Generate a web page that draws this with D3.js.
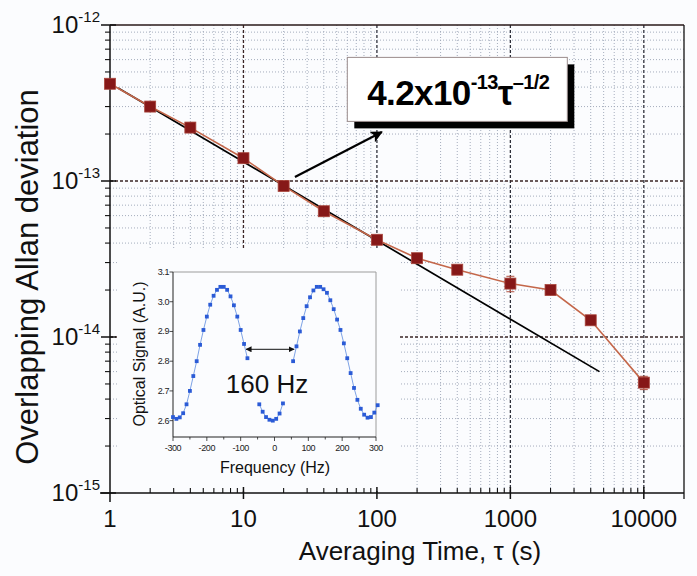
<!DOCTYPE html>
<html>
<head>
<meta charset="utf-8">
<script src="https://cdn.jsdelivr.net/npm/d3@7"></script>
<style>
html, body { margin: 0; padding: 0; background: #fbfcfe; }
svg { display: block; font-family: "Liberation Sans", Arial, sans-serif; }
</style>
</head>
<body>
<svg id="chart" width="697" height="576"></svg>
<script>
// main plot: Allan deviation vs averaging time
const tau = [1, 2, 4, 10, 20, 40, 100, 200, 400, 1000, 2000, 4000, 10000];
const adev = [4.2e-13, 3.0e-13, 2.2e-13, 1.4e-13, 9.3e-14, 6.4e-14, 4.2e-14, 3.2e-14, 2.7e-14, 2.2e-14, 2.0e-14, 1.28e-14, 5.1e-15];
const adevErr = [0, 0, 0, 0, 0, 0, 0, 0, 0, 2.5e-15, 0, 0, 5e-16];

// 4.2e-13 tau^-1/2 guide line, end points
const fitTau = [1.15, 4650];
const fitDev = [3.95e-13, 6.0e-15];

const xTickVals = [1, 10, 100, 1000, 10000];
const xTickLabels = ['1', '10', '100', '1000', '10000'];
const yTickExps = [-12, -13, -14, -15];

// inset: optical signal vs frequency (three recorded segments)
const fLeft = [-300, -290, -280, -270, -260, -250, -240, -230, -220, -210, -200, -190, -180, -170, -160, -150, -140, -130, -120, -110, -100, -90, -80];
const sLeft = [2.612, 2.606, 2.611, 2.625, 2.655, 2.70, 2.75, 2.80, 2.855, 2.905, 2.95, 2.99, 3.02, 3.04, 3.05, 3.05, 3.04, 3.018, 2.988, 2.95, 2.905, 2.858, 2.81];
const fMid = [-45, -35, -25, -15, -5, 5, 15, 25];
const sMid = [2.655, 2.630, 2.612, 2.603, 2.600, 2.606, 2.624, 2.658];
const fRight = [55, 65, 75, 85, 95, 105, 115, 125, 135, 145, 155, 165, 175, 185, 195, 205, 215, 225, 235, 245, 255, 265, 275, 285, 295, 305];
const sRight = [2.80, 2.85, 2.90, 2.945, 2.985, 3.015, 3.038, 3.05, 3.05, 3.042, 3.03, 3.005, 2.975, 2.94, 2.905, 2.86, 2.81, 2.76, 2.71, 2.67, 2.64, 2.62, 2.61, 2.612, 2.627, 2.652];
const insetXTicks = [-300, -200, -100, 0, 100, 200, 300];
const insetYTicks = [2.6, 2.7, 2.8, 2.9, 3.0, 3.1];

const bg = '#fbfcfe';
const svg = d3.select('#chart');

const x = d3.scaleLog().domain([1, 20000]).range([110, 684]);
const y = d3.scaleLog().domain([1e-15, 1e-12]).range([493, 25]);

const isMajor = v => Math.abs(Math.log10(v) - Math.round(Math.log10(v))) < 1e-9;

// grid lines
const grid = svg.append('g');
grid.selectAll('.gx')
    .data(x.ticks().filter(v => v > 1 && v < 20000))
    .join('line')
    .attr('x1', d => x(d)).attr('x2', d => x(d))
    .attr('y1', y(1e-12)).attr('y2', y(1e-15))
    .attr('stroke', d => d === 10 ? '#3a2424' : (isMajor(d) ? '#2e303a' : '#9ba4b5'))
    .attr('stroke-width', d => isMajor(d) ? 1.3 : 0.9)
    .attr('stroke-dasharray', d => isMajor(d) ? '3,2' : '1,2');

grid.selectAll('.gy')
    .data(y.ticks().filter(v => v > 1.01e-15 && v < 0.99e-12))
    .join('line')
    .attr('x1', x(1)).attr('x2', x(20000))
    .attr('y1', d => y(d)).attr('y2', d => y(d))
    .attr('stroke', d => isMajor(d) ? '#3a2424' : '#9ba4b5')
    .attr('stroke-width', d => isMajor(d) ? 1.3 : 0.9)
    .attr('stroke-dasharray', d => isMajor(d) ? '3,2' : '1,2');

// grid is cleared behind the inset
svg.append('rect')
    .attr('x', 117).attr('y', 249)
    .attr('width', 283).attr('height', 242)
    .attr('fill', bg);

// frame and axes
svg.append('line').attr('x1', x(1)).attr('x2', x(20000)).attr('y1', y(1e-12)).attr('y2', y(1e-12))
    .attr('stroke', '#2a1a1a').attr('stroke-width', 1.3);
svg.append('line').attr('x1', x(20000)).attr('x2', x(20000)).attr('y1', y(1e-12)).attr('y2', y(1e-15) + 6)
    .attr('stroke', '#111').attr('stroke-width', 1.3);
svg.append('line').attr('x1', x(1) - 10).attr('x2', x(20000)).attr('y1', y(1e-15)).attr('y2', y(1e-15))
    .attr('stroke', '#111').attr('stroke-width', 1.5);
svg.append('line').attr('x1', x(1)).attr('x2', x(1)).attr('y1', y(1e-12)).attr('y2', y(1e-15) + 9)
    .attr('stroke', '#111').attr('stroke-width', 1.5);

// x ticks
svg.append('g').selectAll('line')
    .data(x.ticks().filter(v => v > 1 && v < 20000))
    .join('line')
    .attr('x1', d => x(d)).attr('x2', d => x(d))
    .attr('y1', d => isMajor(d) ? y(1e-15) - 6 : y(1e-15) - 5)
    .attr('y2', d => isMajor(d) ? y(1e-15) + 6 : y(1e-15))
    .attr('stroke', '#111').attr('stroke-width', d => isMajor(d) ? 1.5 : 1.1);

// y ticks
svg.append('g').selectAll('line')
    .data(y.ticks())
    .join('line')
    .attr('x1', d => isMajor(d) ? x(1) - 9 : x(1) - 5)
    .attr('x2', d => isMajor(d) ? x(1) + 6 : x(1))
    .attr('y1', d => y(d)).attr('y2', d => y(d))
    .attr('stroke', '#111').attr('stroke-width', d => isMajor(d) ? 1.5 : 1.1);

// tick labels
svg.append('g').selectAll('text')
    .data(xTickVals)
    .join('text')
    .attr('x', d => x(d)).attr('y', y(1e-15) + 34)
    .attr('text-anchor', 'middle')
    .attr('font-size', 24).attr('fill', '#111')
    .text((d, i) => xTickLabels[i]);

const yl = svg.append('g').selectAll('text')
    .data(yTickExps)
    .join('text')
    .attr('x', x(1) - 10).attr('y', d => y(Math.pow(10, d)) + 8)
    .attr('text-anchor', 'end')
    .attr('font-size', 24).attr('fill', '#111');
yl.append('tspan').text('10');
yl.append('tspan').attr('font-size', 15).attr('dy', -11).text(d => String(d));

// axis titles
svg.append('text')
    .attr('x', 420).attr('y', 560)
    .attr('text-anchor', 'middle')
    .attr('font-size', 26).attr('fill', '#111')
    .text('Averaging Time, \u03c4 (s)');

svg.append('text')
    .attr('transform', 'translate(38,277) rotate(-90)')
    .attr('text-anchor', 'middle')
    .attr('font-size', 31).attr('fill', '#111')
    .text('Overlapping Allan deviation');

// guide line
svg.append('line')
    .attr('x1', x(fitTau[0])).attr('y1', y(fitDev[0]))
    .attr('x2', x(fitTau[1])).attr('y2', y(fitDev[1]))
    .attr('stroke', '#000').attr('stroke-width', 1.7);

// data curve
const pts = tau.map((t, i) => [t, adev[i], adevErr[i]]);
svg.append('path')
    .datum(pts)
    .attr('d', d3.line().x(d => x(d[0])).y(d => y(d[1])))
    .attr('fill', 'none').attr('stroke', '#c4674a').attr('stroke-width', 1.6);

svg.append('g').selectAll('path')
    .data(pts.filter(d => d[2] > 0))
    .join('path')
    .attr('d', d => {
        const cx = x(d[0]), t = y(d[1] + d[2]), b = y(d[1] - d[2]);
        return `M${cx},${t}V${b}M${cx - 4},${t}H${cx + 4}M${cx - 4},${b}H${cx + 4}`;
    })
    .attr('stroke', '#b05040').attr('stroke-width', 1).attr('fill', 'none');

svg.append('g').selectAll('rect')
    .data(pts)
    .join('rect')
    .attr('x', d => x(d[0]) - 5.5).attr('y', d => y(d[1]) - 5.5)
    .attr('width', 11).attr('height', 11)
    .attr('fill', '#861818').attr('stroke', '#a8443a').attr('stroke-width', 0.8);

// annotation: arrow and boxed formula
const defs = svg.append('defs');
defs.append('marker')
    .attr('id', 'bigHead').attr('viewBox', '0 0 12 12')
    .attr('refX', 11).attr('refY', 6)
    .attr('markerWidth', 12).attr('markerHeight', 12)
    .attr('markerUnits', 'userSpaceOnUse').attr('orient', 'auto')
    .append('path').attr('d', 'M0,0L12,6L0,12L3,6Z').attr('fill', '#000');

svg.append('line')
    .attr('x1', x(24.3)).attr('y1', y(1.06e-13))
    .attr('x2', x(109)).attr('y2', y(2.06e-13))
    .attr('stroke', '#000').attr('stroke-width', 2.2)
    .attr('marker-end', 'url(#bigHead)');

const bx = x(60), by = y(6.2e-13), bw = 220, bh = 64;
svg.append('rect').attr('x', bx + 7).attr('y', by + 7).attr('width', bw).attr('height', bh).attr('fill', '#000');
svg.append('rect').attr('x', bx).attr('y', by).attr('width', bw).attr('height', bh)
    .attr('fill', '#fff').attr('stroke', '#9a8c8c').attr('stroke-width', 1);

const formula = svg.append('text')
    .attr('x', bx + bw / 2 + 1).attr('y', by + 48)
    .attr('text-anchor', 'middle')
    .attr('font-weight', 'bold').attr('font-size', 35)
    .attr('letter-spacing', -0.6).attr('fill', '#000');
formula.append('tspan').text('4.2x10');
formula.append('tspan').attr('font-size', 20).attr('dy', -16).text('-13');
formula.append('tspan').attr('dy', 16).text('\u03c4');
formula.append('tspan').attr('font-size', 20).attr('dy', -16).text('\u20131/2');

// inset
const ix = d3.scaleLinear().domain([-300, 300]).range([173, 376]);
const iy = d3.scaleLinear().domain([2.545, 3.1]).range([437, 272]);

const inset = svg.append('g');
inset.append('line').attr('x1', ix(-300)).attr('x2', ix(300)).attr('y1', iy(3.1)).attr('y2', iy(3.1))
    .attr('stroke', '#9c9c9c').attr('stroke-width', 1);
inset.append('line').attr('x1', ix(300)).attr('x2', ix(300)).attr('y1', iy(3.1)).attr('y2', iy(2.545))
    .attr('stroke', '#9c9c9c').attr('stroke-width', 1);
inset.append('line').attr('x1', ix(-300)).attr('x2', ix(300)).attr('y1', iy(2.545)).attr('y2', iy(2.545))
    .attr('stroke', '#222').attr('stroke-width', 1);
inset.append('line').attr('x1', ix(-300)).attr('x2', ix(-300)).attr('y1', iy(3.1)).attr('y2', iy(2.545))
    .attr('stroke', '#222').attr('stroke-width', 1);

inset.append('g').selectAll('line')
    .data(d3.range(-300, 301, 50))
    .join('line')
    .attr('x1', d => ix(d)).attr('x2', d => ix(d))
    .attr('y1', iy(2.545)).attr('y2', d => iy(2.545) + (d % 100 === 0 ? 4 : 2.5))
    .attr('stroke', '#222').attr('stroke-width', 0.8);
inset.append('g').selectAll('line')
    .data(insetYTicks)
    .join('line')
    .attr('x1', ix(-300) - 3.5).attr('x2', ix(-300))
    .attr('y1', d => iy(d)).attr('y2', d => iy(d))
    .attr('stroke', '#222').attr('stroke-width', 0.8);

inset.append('g').selectAll('text')
    .data(insetXTicks)
    .join('text')
    .attr('x', d => ix(d)).attr('y', iy(2.545) + 14)
    .attr('text-anchor', 'middle').attr('font-size', 9).attr('letter-spacing', -0.4)
    .attr('fill', '#222')
    .text(d => d);
inset.append('g').selectAll('text')
    .data(insetYTicks)
    .join('text')
    .attr('x', ix(-300) - 4).attr('y', d => iy(d) + 3)
    .attr('text-anchor', 'end').attr('font-size', 9).attr('letter-spacing', -0.4)
    .attr('fill', '#222')
    .text(d => d.toFixed(1));

inset.append('text')
    .attr('x', 275).attr('y', 473)
    .attr('text-anchor', 'middle').attr('font-size', 16).attr('fill', '#111')
    .text('Frequency (Hz)');
inset.append('text')
    .attr('transform', 'translate(145,354) rotate(-90)')
    .attr('text-anchor', 'middle').attr('font-size', 16).attr('fill', '#111')
    .text('Optical Signal (A.U.)');

const segments = [
    fLeft.map((f, i) => [f, sLeft[i]]),
    fMid.map((f, i) => [f, sMid[i]]),
    fRight.map((f, i) => [f, sRight[i]])
];
const iline = d3.line().x(d => ix(d[0])).y(d => iy(d[1]));
inset.append('g').selectAll('path')
    .data(segments)
    .join('path')
    .attr('d', iline)
    .attr('fill', 'none').attr('stroke', '#7ea3e6').attr('stroke-width', 1);
inset.append('g').selectAll('rect')
    .data(segments.flat())
    .join('rect')
    .attr('x', d => ix(d[0]) - 1.9).attr('y', d => iy(d[1]) - 1.9)
    .attr('width', 3.8).attr('height', 3.8)
    .attr('fill', '#2b5bd6');

// splitting arrow
defs.append('marker')
    .attr('id', 'smallHead').attr('viewBox', '0 0 6 6')
    .attr('refX', 5.5).attr('refY', 3)
    .attr('markerWidth', 6).attr('markerHeight', 6)
    .attr('markerUnits', 'userSpaceOnUse').attr('orient', 'auto-start-reverse')
    .append('path').attr('d', 'M0,0L6,3L0,6Z').attr('fill', '#111');
inset.append('line')
    .attr('x1', ix(-84)).attr('x2', ix(58))
    .attr('y1', iy(2.84)).attr('y2', iy(2.84))
    .attr('stroke', '#111').attr('stroke-width', 1)
    .attr('marker-start', 'url(#smallHead)').attr('marker-end', 'url(#smallHead)');

inset.append('text')
    .attr('x', ix(-22)).attr('y', iy(2.693))
    .attr('text-anchor', 'middle').attr('font-size', 26).attr('fill', '#111')
    .text('160 Hz');
</script>
</body>
</html>
